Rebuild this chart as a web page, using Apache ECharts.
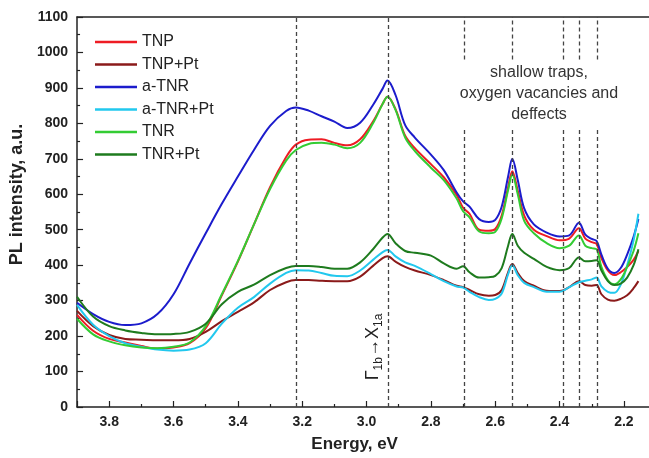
<!DOCTYPE html>
<html>
<head>
<meta charset="utf-8">
<script src="https://cdn.jsdelivr.net/npm/echarts@6/dist/echarts.min.js"></script>
<style>
html,body{margin:0;padding:0;background:#fff;overflow:hidden;width:649px;height:458px;}
#chart{width:701px;height:458px;}
</style>
</head>
<body>
<div id="chart"></div>
<script>
// Photon energy grid, eV
const energy = [3.90,3.85,3.80,3.75,3.70,3.65,3.60,3.55,3.50,3.45,3.40,3.35,3.30,3.25,3.22,3.18,3.14,3.10,3.06,3.02,2.98,2.95,2.935,2.91,2.88,2.85,2.80,2.76,2.72,2.70,2.68,2.65,2.62,2.60,2.58,2.56,2.547,2.53,2.51,2.48,2.44,2.40,2.37,2.34,2.32,2.30,2.285,2.27,2.25,2.23,2.21,2.19,2.17,2.155];

// PL intensities, a.u.
const TNP      = [260,215,192,182,172,165,168,180,222,315,410,515,620,705,740,754,755,745,738,755,805,855,875,840,765,730,685,648,598,562,545,500,497,502,540,620,665,610,540,500,482,470,475,504,475,465,460,420,385,372,380,395,415,440];
const TNP_Pt   = [271,228,203,192,190,188,188,192,212,242,268,295,330,352,358,358,356,355,355,368,398,420,425,410,395,385,372,358,342,338,330,318,314,316,330,380,403,378,355,342,328,327,338,355,344,342,344,318,303,300,305,315,335,355];
const aTNR     = [294,262,240,231,236,262,318,405,490,573,650,725,793,835,845,836,820,805,787,802,852,898,921,880,795,760,712,668,605,580,565,530,522,528,565,650,700,640,560,515,492,481,484,520,486,474,468,430,390,378,392,430,480,530];
const aTNR_Pt  = [288,232,200,180,170,162,159,162,180,235,280,310,348,378,386,385,378,370,369,385,415,437,443,425,408,398,375,355,340,337,325,310,302,305,320,375,400,372,350,338,325,325,338,352,356,360,365,340,325,322,345,400,470,545];
const TNR      = [249,205,185,174,168,166,170,182,228,318,412,515,615,695,725,742,745,740,730,745,800,855,875,838,760,722,675,640,588,552,535,495,490,494,532,612,655,600,525,490,462,448,455,484,455,448,445,395,358,346,360,395,440,490];
const TNR_Pt   = [311,255,228,216,209,205,206,212,235,290,325,345,372,392,398,398,395,390,390,408,445,478,488,462,440,435,427,405,390,397,380,365,366,370,392,455,488,455,435,418,395,386,392,422,411,412,414,385,355,344,348,365,400,445];

const seriesNames  = ['TNP','TNP+Pt','a-TNR','a-TNR+Pt','TNR','TNR+Pt'];
const seriesValues = [TNP, TNP_Pt, aTNR, aTNR_Pt, TNR, TNR_Pt];
const seriesColors = ['#ee1c24','#8b1a1a','#1c1ccc','#22c8ee','#33cc33','#1e7b1e'];

// Feature energies (dashed guides)
const bandLines = [3.22, 2.934];
const trapLines = [2.695, 2.547, 2.388, 2.339, 2.284];
const trapGap = [789, 980]; // intensity range left open for the annotation

const xTicks = {min: 2.0, max: 3.9, interval: 0.2};
const yTicks = {min: 0, max: 1100, interval: 100};

const FONT = "'Liberation Sans', Arial, Helvetica, sans-serif";

const chart = echarts.init(document.getElementById('chart'), null, {renderer: 'canvas'});

const guideData = [];
bandLines.forEach(e => guideData.push([{coord: [e, yTicks.min]}, {coord: [e, yTicks.max]}]));
trapLines.forEach(e => {
  guideData.push([{coord: [e, yTicks.min]}, {coord: [e, trapGap[0]]}]);
  guideData.push([{coord: [e, trapGap[1]]}, {coord: [e, yTicks.max]}]);
});

const series = seriesNames.map((n, i) => ({
  name: n,
  type: 'line',
  data: energy.map((e, k) => [e, seriesValues[i][k]]),
  showSymbol: false,
  symbol: 'none',
  smooth: 0.35,
  lineStyle: {width: 2, color: seriesColors[i]},
  itemStyle: {color: seriesColors[i]},
  z: 3,
  silent: true
}));

series.unshift({
  name: 'guides',
  type: 'line',
  data: [],
  z: 1,
  silent: true,
  markLine: {
    silent: true,
    symbol: ['none', 'none'],
    label: {show: false},
    lineStyle: {type: [4, 3], color: '#444', width: 1.3},
    emphasis: {disabled: true},
    data: guideData
  }
});

const option = {
  animation: false,
  backgroundColor: '#ffffff',
  grid: {left: 71, top: 17, right: 0, bottom: 48},
  legend: {
    data: seriesNames,
    orient: 'vertical',
    left: 95,
    top: 34,
    padding: 0,
    icon: 'rect',
    itemWidth: 42,
    itemHeight: 2.5,
    itemGap: 6.5,
    textStyle: {fontFamily: FONT, fontSize: 16, color: '#222', lineHeight: 16}
  },
  xAxis: [{
    type: 'value',
    inverse: true,
    min: xTicks.min, max: xTicks.max, interval: xTicks.interval,
    name: 'Energy, eV',
    nameLocation: 'middle',
    nameGap: 29,
    nameTextStyle: {fontFamily: FONT, fontSize: 17, fontWeight: 'bold', color: '#222', padding: [0, 56, 0, 0]},
    axisLine: {show: true, onZero: false, lineStyle: {color: '#222', width: 1.5}},
    axisTick: {show: true, inside: true, length: 6, lineStyle: {color: '#222', width: 1.2}},
    minorTick: {show: true, splitNumber: 2, length: 3, lineStyle: {color: '#222', width: 1.2}},
    axisLabel: {fontFamily: FONT, fontSize: 14, fontWeight: 'bold', color: '#222', margin: 8,
      showMaxLabel: false, formatter: v => v.toFixed(1)},
    splitLine: {show: false}
  }, {
    type: 'value',
    inverse: true,
    position: 'top',
    min: xTicks.min, max: xTicks.max, interval: xTicks.interval,
    axisLine: {show: true, onZero: false, lineStyle: {color: '#222', width: 1.5}},
    axisTick: {show: false},
    axisLabel: {show: false},
    splitLine: {show: false}
  }],
  yAxis: {
    type: 'value',
    min: yTicks.min, max: yTicks.max, interval: yTicks.interval,
    name: 'PL intensity, a.u.',
    nameLocation: 'middle',
    nameGap: 40,
    nameTextStyle: {fontFamily: FONT, fontSize: 18, fontWeight: 'bold', color: '#222', padding: [0, 0, 0, 35]},
    axisLine: {show: true, onZero: false, lineStyle: {color: '#222', width: 1.5}},
    axisTick: {show: true, inside: true, length: 6, lineStyle: {color: '#222', width: 1.2}},
    minorTick: {show: true, splitNumber: 2, length: 3, lineStyle: {color: '#222', width: 1.2}},
    axisLabel: {fontFamily: FONT, fontSize: 14, fontWeight: 'bold', color: '#222', margin: 9,
      formatter: v => String(v)},
    splitLine: {show: false}
  },
  graphic: [{
    type: 'text',
    x: 539, y: 62,
    style: {
      text: 'shallow traps,\noxygen vacancies and\ndeffects',
      font: '16px ' + FONT,
      fill: '#333',
      align: 'center',
      verticalAlign: 'top',
      lineHeight: 21
    }
  }, {
    type: 'text',
    x: 373, y: 347,
    rotation: Math.PI / 2,
    style: {
      text: '{a|Γ}{s|1b}{a|→X}{s|1a}',
      align: 'center',
      verticalAlign: 'middle',
      fill: '#222',
      rich: {
        a: {fontFamily: FONT, fontSize: 18, color: '#222', lineHeight: 24, verticalAlign: 'middle'},
        s: {fontFamily: FONT, fontSize: 12, color: '#222', lineHeight: 12, verticalAlign: 'bottom'}
      }
    }
  }],
  series: series
};

chart.setOption(option);
</script>
</body>
</html>
